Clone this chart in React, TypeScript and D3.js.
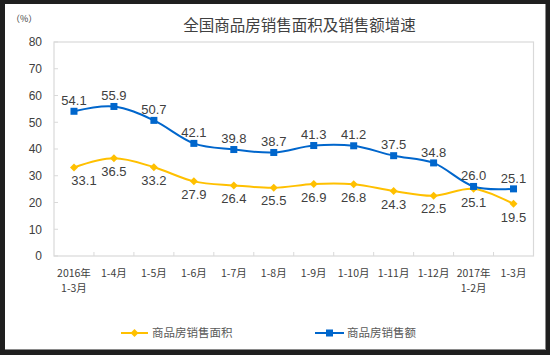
import React from "react";
import * as d3 from "d3";

const categories: string[][] = [
  ["2016年", "1-3月"],
  ["1-4月"],
  ["1-5月"],
  ["1-6月"],
  ["1-7月"],
  ["1-8月"],
  ["1-9月"],
  ["1-10月"],
  ["1-11月"],
  ["1-12月"],
  ["2017年", "1-2月"],
  ["1-3月"],
];
const areaGrowth = [33.1, 36.5, 33.2, 27.9, 26.4, 25.5, 26.9, 26.8, 24.3, 22.5, 25.1, 19.5];
const salesGrowth = [54.1, 55.9, 50.7, 42.1, 39.8, 38.7, 41.3, 41.2, 37.5, 34.8, 26.0, 25.1];
const yTicks = [0, 10, 20, 30, 40, 50, 60, 70, 80];
const seriesNames = ["商品房销售面积", "商品房销售额"];
const title = "全国商品房销售面积及销售额增速";
const unitLabel = "（%）";

const W = 550;
const H = 355;
const plot = { left: 54, right: 533.5, top: 42, bottom: 256 };
const YELLOW = "#FFC000";
const BLUE = "#0066CC";
const TEXT = "#404040";
const GRID = "#D9D9D9";
const NUM_FONT = "'Liberation Sans', Arial, sans-serif";
const CJK_FONT = "'Noto Sans CJK SC', 'Noto Sans', sans-serif";

export default function App() {
  const x = d3
    .scaleBand<number>()
    .domain(d3.range(categories.length))
    .range([plot.left, plot.right]);
  const y = d3.scaleLinear().domain([0, 80]).range([plot.bottom, plot.top]);
  const cx = (i: number) => (x(i) as number) + x.bandwidth() / 2;

  const line = d3
    .line<number>()
    .x((_, i) => cx(i))
    .y((d) => y(d))
    .curve(d3.curveCatmullRom.alpha(0));

  const diamond = (px: number, py: number, r = 4) =>
    `M${px},${py - r}L${px + r},${py}L${px},${py + r}L${px - r},${py}Z`;

  const boundaries = d3.range(1, categories.length).map((i) => x(i) as number);

  return (
    <svg
      width={W}
      height={H}
      style={{ position: "absolute", left: 0, top: 0 }}
      xmlns="http://www.w3.org/2000/svg"
    >
      <rect x={0} y={0} width={W} height={H} fill="#1f1f1f" />
      <rect x={5} y={4} width={541} height={346} fill="#8a8a8a" />
      <rect x={5} y={4} width={540} height={345} fill="#ffffff" />

      <text
        x={299.5}
        y={31}
        textAnchor="middle"
        fontFamily={CJK_FONT}
        fontSize={15.5}
        fill={TEXT}
      >
        {title}
      </text>
      <text x={11} y={22} fontFamily={CJK_FONT} fontSize={9} fill={TEXT}>
        {unitLabel}
      </text>

      {/* plot frame */}
      <rect
        x={plot.left}
        y={plot.top}
        width={plot.right - plot.left}
        height={plot.bottom - plot.top}
        fill="none"
        stroke={GRID}
        strokeWidth={1.2}
      />

      {/* y ticks */}
      {yTicks.map((t) => (
        <g key={t}>
          <line x1={plot.left} x2={plot.left + 4} y1={y(t)} y2={y(t)} stroke={GRID} strokeWidth={1} />
          <text
            x={42}
            y={y(t)}
            dy="0.36em"
            textAnchor="end"
            fontFamily={NUM_FONT}
            fontSize={12}
            fill={TEXT}
          >
            {t}
          </text>
        </g>
      ))}

      {/* x ticks */}
      {boundaries.map((b, i) => (
        <line key={i} x1={b} x2={b} y1={plot.bottom} y2={plot.bottom - 4} stroke={GRID} strokeWidth={1} />
      ))}
      {categories.map((lines, i) => (
        <text
          key={i}
          textAnchor="middle"
          fontFamily={CJK_FONT}
          fontSize={10.5}
          fill={TEXT}
        >
          {lines.map((l, j) => (
            <tspan key={j} x={cx(i)} y={277 + j * 15}>
              {l}
            </tspan>
          ))}
        </text>
      ))}

      {/* series lines */}
      <path d={line(areaGrowth) || ""} fill="none" stroke={YELLOW} strokeWidth={2} />
      <path d={line(salesGrowth) || ""} fill="none" stroke={BLUE} strokeWidth={2} />

      {areaGrowth.map((v, i) => (
        <path key={"a" + i} d={diamond(cx(i), y(v))} fill={YELLOW} />
      ))}
      {salesGrowth.map((v, i) => (
        <rect key={"s" + i} x={cx(i) - 3.5} y={y(v) - 3.5} width={7} height={7} fill={BLUE} />
      ))}

      {/* data labels */}
      {salesGrowth.map((v, i) => (
        <text
          key={"sl" + i}
          x={cx(i)}
          y={y(v) - 11}
          dy="0.36em"
          textAnchor="middle"
          fontFamily={NUM_FONT}
          fontSize={13}
          fill={TEXT}
        >
          {v.toFixed(1)}
        </text>
      ))}
      {areaGrowth.map((v, i) => (
        <text
          key={"al" + i}
          x={cx(i) + (i === 0 ? 10 : 0)}
          y={y(v) + 13}
          dy="0.36em"
          textAnchor="middle"
          fontFamily={NUM_FONT}
          fontSize={13}
          fill={TEXT}
        >
          {v.toFixed(1)}
        </text>
      ))}

      {/* legend */}
      <g>
        <line x1={121} x2={148} y1={333} y2={333} stroke={YELLOW} strokeWidth={2} />
        <path d={diamond(134.5, 333)} fill={YELLOW} />
        <text x={152} y={333} dy="0.36em" fontFamily={CJK_FONT} fontSize={11.5} fill="#595959">
          {seriesNames[0]}
        </text>
        <line x1={315} x2={344} y1={333} y2={333} stroke={BLUE} strokeWidth={2} />
        <rect x={326} y={329.5} width={7} height={7} fill={BLUE} />
        <text x={347} y={333} dy="0.36em" fontFamily={CJK_FONT} fontSize={11.5} fill="#595959">
          {seriesNames[1]}
        </text>
      </g>
    </svg>
  );
}
